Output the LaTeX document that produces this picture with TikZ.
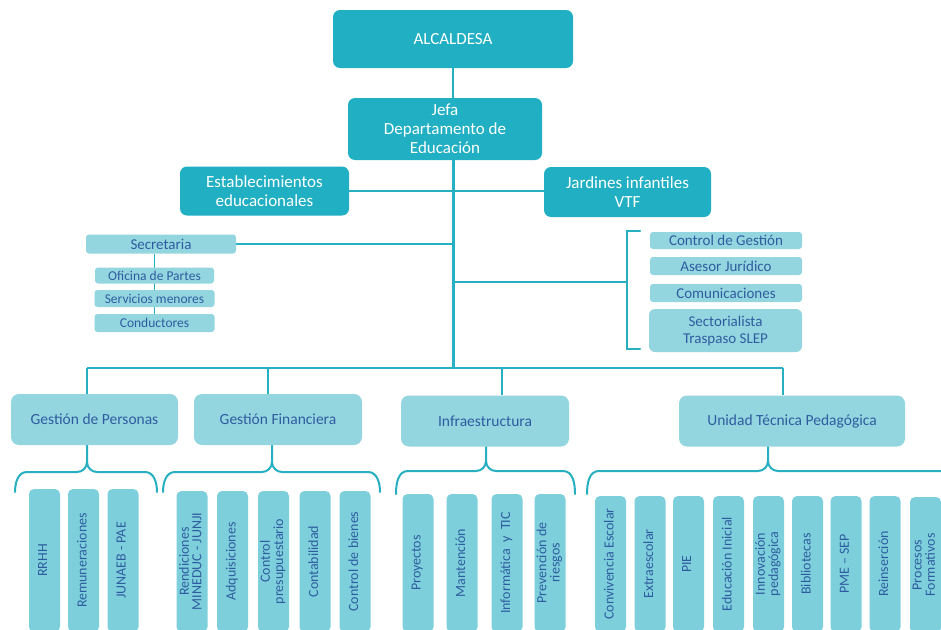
\documentclass[tikz,border=0pt]{standalone}
\usepackage{fontspec}
\setmainfont{Carlito}
\usetikzlibrary{backgrounds}
\definecolor{darkteal}{HTML}{21AFC3}
\definecolor{lightteal}{HTML}{93D6DF}
\definecolor{leafteal}{HTML}{7DD0DB}
\definecolor{linecol}{HTML}{27AFC2}
\definecolor{bluetext}{HTML}{2F5CA0}
\newcommand{\rot}[1]{\rotatebox{90}{\begin{tabular}{@{}c@{}}#1\end{tabular}}}
\tikzset{
  dbox/.style={fill=darkteal, rounded corners=7pt, text=white, align=center, inner sep=0pt, font=\fontsize{17}{19}\selectfont},
  lbox/.style={fill=lightteal, rounded corners=3pt, text=bluetext, align=center, inner sep=0pt},
  gbox/.style={fill=lightteal, rounded corners=8pt, text=bluetext, align=center, inner sep=0pt, minimum height=51pt, font=\fontsize{15.5}{18}\selectfont},
  leaf/.style={fill=leafteal, rounded corners=5pt, text=bluetext, inner sep=0pt, minimum width=31pt, minimum height=#1, font=\fontsize{14}{14}\selectfont},
  conn/.style={draw=linecol, line width=2.5pt},
  thin/.style={draw=linecol, line width=1.5pt},
  bracecol/.style={draw=linecol, line width=2pt, line cap=round}
}
\renewcommand{\arraystretch}{0.85}
\begin{document}
\begin{tikzpicture}[x=1pt,y=-1pt]
\useasboundingbox (0,0) rectangle (941,629);
\clip (0,0) rectangle (941,629);

% top hierarchy
\node[dbox, minimum width=240pt, minimum height=58pt] (alc) at (453,39) {ALCALDESA};
\node[dbox, minimum width=194pt, minimum height=62pt] (jefa) at (445,129) {Jefa\\Departamento de\\Educación};
\node[dbox, minimum width=169pt, minimum height=49pt] (est) at (264.5,191) {Establecimientos\\educacionales};
\node[dbox, minimum width=167pt, minimum height=50pt] (jar) at (627.5,192) {Jardines infantiles\\VTF};

% secretaria
\node[lbox, minimum width=150pt, minimum height=19pt, font=\fontsize{15}{17}\selectfont] (sec) at (161,244) {Secretaria};
\node[lbox, minimum width=119pt, minimum height=16pt, font=\fontsize{13.5}{15}\selectfont] (ofi) at (154.5,275.5) {Oficina de Partes};
\node[lbox, minimum width=120pt, minimum height=17pt, font=\fontsize{13.5}{15}\selectfont] (ser) at (154.5,298.5) {Servicios menores};
\node[lbox, minimum width=120pt, minimum height=18pt, font=\fontsize{13.5}{15}\selectfont] (con) at (154.5,323) {Conductores};

% right staff
\node[lbox, minimum width=152pt, minimum height=17pt, font=\fontsize{15}{17}\selectfont] (cg) at (726,240.5) {Control de Gestión};
\node[lbox, minimum width=152pt, minimum height=18pt, font=\fontsize{15}{17}\selectfont] (aj) at (726,266) {Asesor Jurídico};
\node[lbox, minimum width=152pt, minimum height=18pt, font=\fontsize{15}{17}\selectfont] (com) at (726,293) {Comunicaciones};
\node[lbox, rounded corners=6pt, minimum width=153pt, minimum height=43pt, font=\fontsize{15}{17}\selectfont] (sect) at (725.5,330.5) {Sectorialista\\Traspaso SLEP};

% groups
\node[gbox, minimum width=167pt] (gp) at (94.5,419.5) {Gestión de Personas};
\node[gbox, minimum width=168pt] (gf) at (278,419.5) {Gestión Financiera};
\node[gbox, minimum width=168pt] (inf) at (485,421) {Infraestructura};
\node[gbox, minimum width=226pt] (utp) at (792,421) {Unidad Técnica Pedagógica};

% leaves: Gestión de Personas
\node[leaf=143pt] (rrhh) at (44.5,560.5) {\rot{RRHH}};
\node[leaf=143pt] (rem) at (83.5,560.5) {\rot{Remuneraciones}};
\node[leaf=143pt] (jun) at (123,560.5) {\rot{JUNAEB - PAE}};
% Gestión Financiera
\node[leaf=141pt] (ren) at (192,561.5) {\rot{Rendiciones\\MINEDUC - JUNJI}};
\node[leaf=141pt] (adq) at (232.5,561.5) {\rot{Adquisiciones}};
\node[leaf=141pt] (cpr) at (273.5,561.5) {\rot{Control\\presupuestario}};
\node[leaf=141pt] (cont) at (315,561.5) {\rot{Contabilidad}};
\node[leaf=141pt] (cbi) at (355,561.5) {\rot{Control de bienes}};
% Infraestructura
\node[leaf=138pt] (pro) at (418,563) {\rot{Proyectos}};
\node[leaf=138pt] (man) at (462,563) {\rot{Mantención}};
\node[leaf=138pt] (itic) at (507,563) {\rot{Informática\ \ y\ \ TIC}};
\node[leaf=138pt] (prev) at (550,563) {\rot{Prevención de\\riesgos}};
% UTP
\node[leaf=136pt] (conv) at (610.5,564) {\rot{Convivencia Escolar}};
\node[leaf=136pt] (ext) at (650,564) {\rot{Extraescolar}};
\node[leaf=136pt] (pie) at (688.5,564) {\rot{PIE}};
\node[leaf=136pt] (edi) at (728.5,564) {\rot{Educación Inicial}};
\node[leaf=136pt] (inn) at (768.5,564) {\rot{Innovación\\pedagógica}};
\node[leaf=136pt] (bib) at (807.5,564) {\rot{Bibliotecas}};
\node[leaf=136pt] (pme) at (846,564) {\rot{PME – SEP}};
\node[leaf=136pt] (rei) at (885,564) {\rot{Reinserción}};
\node[leaf=136pt] (pfo) at (925.5,565) {\rot{Procesos\\Formativos}};

% coordinates
\coordinate (bus) at (453,368);
\coordinate (busL) at (87,368);
\coordinate (busR) at (783,368);
\coordinate (secJ) at (453,244);
\coordinate (brJ) at (453,282);
\coordinate (brM) at (627,282);
\coordinate (brT) at (627,231);
\coordinate (brB) at (627,349);
\coordinate (brTe) at (640,231);
\coordinate (brBe) at (640,349);

\begin{scope}[on background layer]
  \fill[white] (0,0) rectangle (941,629);
  \draw[conn, line width=2pt] (alc.south) -- (jefa.north -| alc.south);
  \draw[conn, line width=3pt] (jefa.south -| alc.south) -- (bus);
  \draw[conn, line width=2pt] (est.east |- 0,191) -- (jar.west |- 0,191);
  \draw[conn, line width=2pt] (sec.east) -- (secJ);
  \draw[thin, line width=1pt] (ofi.north |- sec.south) -- (con.north);
  \draw[conn, line width=2pt] (brJ) -- (brM);
  \draw[bracecol] (brTe) -- (brT) -- (brB) -- (brBe);
  % bus
  \draw[conn, line width=2pt] (busL) -- (busR);
  \draw[thin] (busL) -- (gp.north -| busL);
  \draw[thin] (268,368) -- (gf.north -| 268,0);
  \draw[thin] (502,368) -- (inf.north -| 502,0);
  \draw[thin] (busR) -- (utp.north -| busR);
  % braces
  \draw[bracecol] (gp.south -| 87,0) -- (87,462) to[out=-90,in=0] (77,472) -- (27,472) to[out=180,in=90] (15,492);
  \draw[bracecol] (87,462) to[out=-90,in=180] (97,472) -- (145,472) to[out=0,in=90] (157,492);
  \draw[bracecol] (gf.south -| 272,0) -- (272,462) to[out=-90,in=0] (262,472) -- (175,472) to[out=180,in=90] (163,492);
  \draw[bracecol] (272,462) to[out=-90,in=180] (282,472) -- (368,472) to[out=0,in=90] (380,492);
  \draw[bracecol] (inf.south -| 486,0) -- (486,461) to[out=-90,in=0] (476,471) -- (408,471) to[out=180,in=90] (396,494);
  \draw[bracecol] (486,461) to[out=-90,in=180] (496,471) -- (563,471) to[out=0,in=90] (575,494);
  \draw[bracecol] (utp.south -| 768,0) -- (768,461) to[out=-90,in=0] (758,471) -- (599,471) to[out=180,in=90] (587,494);
  \draw[bracecol] (768,461) to[out=-90,in=180] (778,471) -- (960,471);
\end{scope}
\end{tikzpicture}
\end{document}
